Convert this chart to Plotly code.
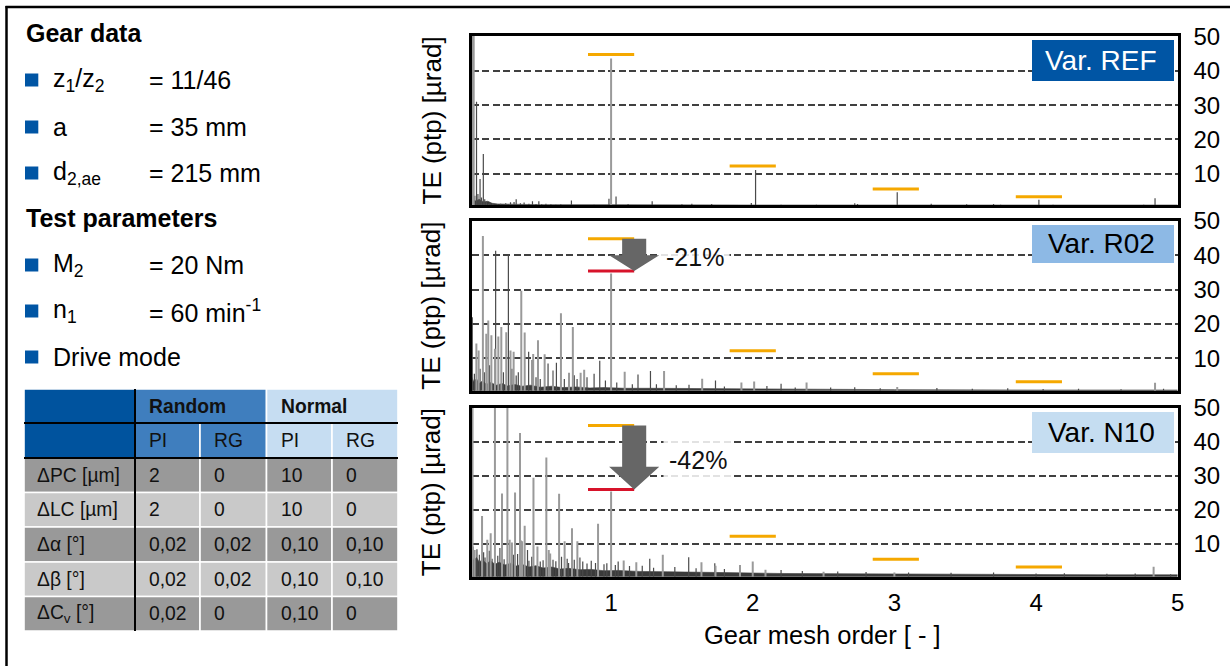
import plotly.graph_objects as go

W, H = 1230, 666
FONT = "Liberation Sans, Arial, sans-serif"

# ---------------- data ----------------
GEAR_LABELS = ["z<sub>1</sub>/z<sub>2</sub>", "a", "d<sub>2,ae</sub>"]
GEAR_VALUES = ["= 11/46", "= 35 mm", "= 215 mm"]
TEST_LABELS = ["M<sub>2</sub>", "n<sub>1</sub>", "Drive mode"]
TEST_VALUES = ["= 20 Nm", "= 60 min<sup>-1</sup>", ""]

TABLE_GROUPS = ["Random", "Normal"]
TABLE_SUBCOLS = ["PI", "RG", "PI", "RG"]
TABLE_ROWS = ["ΔPC [µm]", "ΔLC [µm]", "Δα [°]", "Δβ [°]", "ΔC<sub>v</sub> [°]"]
TABLE_VALUES = [
    ["2", "0", "10", "0"],
    ["2", "0", "10", "0"],
    ["0,02", "0,02", "0,10", "0,10"],
    ["0,02", "0,02", "0,10", "0,10"],
    ["0,02", "0", "0,10", "0"],
]

X_TICKS = [1, 2, 3, 4, 5]
Y_TICKS = [10, 20, 30, 40, 50]
VARIANTS = ["Var. REF", "Var. R02", "Var. N10"]
HARMONIC_ORDERS = [1.0, 2.0, 3.01, 4.02]
REF_LEVELS = [44.8, 12.2, 5.5, 3.2]
REDUCTION_PCT = [None, -21, -42]

# Var. REF spectrum
REF_GREY_X = [0.022, 0.03, 1.0]
REF_GREY_Y = [52, 52, 43.6]
REF_DARK_X = [0.038, 0.05, 0.06, 0.068, 0.075, 0.085, 0.098, 0.108, 0.12, 0.135, 0.145, 0.165, 0.197,
              0.22, 0.24, 0.256, 0.275, 0.29, 0.315, 0.33, 0.36, 0.386, 0.42, 0.445, 0.47, 0.49, 0.51,
              0.54, 0.575, 0.61, 0.645, 0.72, 0.82, 0.88, 0.985, 1.035, 1.12, 1.29, 1.4, 1.5, 1.57,
              1.71, 1.99, 2.02, 2.2, 2.45, 2.72, 2.74, 3.02, 3.26, 3.51, 3.7, 3.75, 4.02, 4.12, 4.76, 4.84]
REF_DARK_Y = [3.5, 31, 4.0, 2.5, 8.4, 3.0, 15.7, 2.5, 1.8, 1.2, 1.4, 1.1, 1.0,
              1.2, 0.9, 1.3, 1.0, 1.6, 1.7, 2.5, 1.3, 1.5, 1.2, 1.9, 1.1, 1.9, 1.0,
              1.2, 1.0, 0.9, 1.0, 2.1, 0.8, 0.9, 2.6, 3.3, 1.1, 1.9, 0.8, 1.0, 1.2,
              1.1, 1.4, 11.0, 0.9, 0.9, 1.3, 1.1, 4.5, 1.2, 1.0, 1.1, 0.9, 2.3, 0.9, 0.9, 2.8]
REF_FLOOR_X = [0.016, 0.04, 0.07, 0.1, 0.13, 0.16, 0.2, 0.3, 0.5, 1.0, 2.0, 5.0]
REF_FLOOR_Y = [2.6, 2.0, 2.4, 1.7, 1.9, 1.3, 1.1, 1.0, 0.9, 0.9, 0.8, 0.8]

# Var. R02 spectrum
R02_GREY_X = [0.049, 0.065, 0.095, 0.119, 0.133, 0.155, 0.18, 0.204, 0.225, 0.26, 0.29, 0.312, 0.366,
              0.39, 0.45, 0.484, 0.531, 0.59, 0.646, 0.703, 0.73, 0.785, 0.81, 1.0, 1.096, 1.374,
              1.643, 1.92, 2.01, 2.38, 3.02, 4.84]
R02_GREY_Y = [14.3, 12.3, 45.6, 17.2, 21.0, 16.7, 12.8, 16.4, 19.1, 17.6, 12.3, 11.9, 29.7,
              17.5, 11.3, 15.3, 11.2, 6.5, 23.1, 5.8, 19.1, 5.8, 6.7, 34.7, 6.1, 6.3,
              4.1, 3.0, 3.3, 3.0, 1.7, 2.9]
R02_DARK_X = [0.02, 0.035, 0.075, 0.105, 0.142, 0.185, 0.24, 0.275, 0.3, 0.33, 0.345, 0.418, 0.442,
              0.47, 0.5, 0.555, 0.614, 0.67, 0.74, 0.76, 0.83, 0.88, 0.92, 0.96, 1.04, 1.15, 1.19,
              1.278, 1.32, 1.46, 1.55, 1.737, 1.8, 2.1, 2.2, 2.3, 2.55, 2.72, 2.9, 3.3, 3.55, 3.8,
              4.05, 4.3, 4.6, 4.9]
R02_DARK_Y = [22, 5.5, 7.0, 6.0, 8.0, 41.3, 6.0, 40.3, 7.0, 5.0, 6.0, 11.9, 9.5,
              4.5, 4.0, 8.5, 8.7, 4.0, 5.1, 4.0, 4.5, 5.5, 9.3, 3.6, 3.0, 2.5, 5.3,
              6.3, 2.5, 2.2, 2.3, 3.6, 1.8, 2.0, 2.6, 1.5, 1.5, 1.6, 1.3, 1.4, 1.2, 1.3,
              1.1, 1.2, 1.0, 1.2]
R02_FLOOR_X = [0.016, 0.03, 0.05, 0.07, 0.09, 0.12, 0.15, 0.19, 0.23, 0.27, 0.32, 0.37, 0.43, 0.5,
               0.58, 0.66, 0.75, 0.85, 0.95, 1.1, 1.3, 1.6, 2.0, 2.5, 3.0, 4.0, 5.0]
R02_FLOOR_Y = [4.6, 3.3, 4.1, 2.7, 3.4, 2.5, 3.0, 2.2, 2.7, 2.0, 2.4, 1.9, 2.2, 1.6,
               1.9, 1.5, 1.7, 1.4, 1.5, 1.3, 1.3, 1.2, 1.1, 1.0, 0.9, 0.8, 0.8]

# Var. N10 spectrum
N10_GREY_X = [0.022, 0.037, 0.089, 0.126, 0.15, 0.18, 0.23, 0.268, 0.284, 0.3, 0.322, 0.357, 0.364,
              0.372, 0.39, 0.452, 0.48, 0.543, 0.56, 0.57, 0.633, 0.672, 0.724, 0.762, 0.908, 1.0,
              1.089, 1.178, 1.365, 1.638, 1.737, 1.91, 2.0, 2.09, 2.5, 3.0, 4.83]
N10_GREY_Y = [52, 8.2, 18.2, 11.2, 13.1, 52, 24.8, 52, 11.2, 10.4, 25.1, 42.6, 11.0,
              10.8, 15.3, 29.4, 9.2, 35.4, 8.2, 7.2, 24.7, 10.8, 14.6, 10.8, 15.9, 25.4,
              5.1, 4.6, 6.8, 4.6, 3.6, 3.8, 4.8, 2.4, 1.8, 1.6, 3.3]
N10_DARK_X = [0.025, 0.053, 0.07, 0.1, 0.11, 0.14, 0.16, 0.2, 0.215, 0.245, 0.31, 0.34, 0.41, 0.42,
              0.44, 0.5, 0.52, 0.59, 0.61, 0.65, 0.69, 0.7, 0.74, 0.78, 0.8, 0.83, 0.86, 0.89, 0.95,
              0.97, 1.03, 1.05, 1.13, 1.22, 1.273, 1.3, 1.45, 1.548, 1.6, 1.732, 1.8, 2.2, 2.35,
              2.6, 2.8, 3.1, 3.4, 3.7, 4.0, 4.2, 4.5, 4.7, 4.95]
N10_DARK_Y = [9.2, 8.4, 6.8, 7.5, 6.0, 8.0, 5.6, 6.5, 8.8, 5.5, 6.8, 7.0, 8.2, 5.0,
              6.2, 4.8, 5.2, 5.3, 4.9, 6.2, 5.6, 4.4, 5.3, 6.0, 4.8, 4.2, 5.0, 4.4, 4.0,
              4.3, 3.8, 4.8, 3.5, 3.6, 5.6, 3.0, 3.2, 6.1, 2.8, 4.3, 2.6, 2.3, 2.0,
              1.9, 1.7, 1.6, 1.5, 1.6, 1.3, 1.4, 1.2, 1.3, 1.1]
N10_FLOOR_X = [0.016, 0.03, 0.05, 0.07, 0.09, 0.12, 0.15, 0.18, 0.21, 0.25, 0.29, 0.33, 0.37, 0.42,
               0.47, 0.52, 0.58, 0.64, 0.7, 0.78, 0.86, 0.95, 1.05, 1.2, 1.4, 1.6, 1.9, 2.2, 2.6,
               3.0, 3.5, 4.0, 4.5, 5.0]
N10_FLOOR_Y = [6.5, 5.2, 6.0, 4.6, 5.4, 4.2, 5.0, 4.0, 4.6, 3.8, 4.3, 3.5, 4.0, 3.2,
               3.6, 2.9, 3.2, 2.6, 2.8, 2.4, 2.5, 2.1, 2.2, 1.9, 1.8, 1.6, 1.5, 1.3, 1.2,
               1.1, 1.0, 1.0, 0.9, 0.9]

SPECTRA = [
    (REF_GREY_X, REF_GREY_Y, REF_DARK_X, REF_DARK_Y, REF_FLOOR_X, REF_FLOOR_Y),
    (R02_GREY_X, R02_GREY_Y, R02_DARK_X, R02_DARK_Y, R02_FLOOR_X, R02_FLOOR_Y),
    (N10_GREY_X, N10_GREY_Y, N10_DARK_X, N10_DARK_Y, N10_FLOOR_X, N10_FLOOR_Y),
]

# ---------------- style / layout (pixels) ----------------
def fx(p):
    return p / W


def fy(p):
    return 1 - p / H


PLOT_X = (471.7, 1177.7)
PLOT_Y = [(36, 205), (220.7, 390.7), (407.7, 576.7)]
Y_RANGES = [(0.8, 50.2), (0.6, 50.05), (0.35, 50.0)]
X_RANGE = (0.016, 5.0)
BOX_STYLE = [("#0055A4", "white", 40, 81), ("#8DB9E5", "black", 225, 263), ("#C5DDF1", "black", 412, 453)]
LINE_HALF = 0.163
YELLOW = "#F5A800"
RED = "#D7132A"
ARROW_COL = "#666666"


def stems(xs, ys):
    sx, sy = [], []
    for a, b in zip(xs, ys):
        sx += [a, a, None]
        sy += [0, b, None]
    return sx, sy


fig = go.Figure()
shapes = []
annotations = []

for i, (gx, gy, dx, dy, flx, fly) in enumerate(SPECTRA):
    xa = "x" if i == 0 else f"x{i + 1}"
    ya = "y" if i == 0 else f"y{i + 1}"
    fig.add_trace(go.Scatter(x=flx, y=fly, mode="lines", fill="tozeroy", fillcolor="#3a3a3a",
                             line=dict(color="#3a3a3a", width=0.6), xaxis=xa, yaxis=ya,
                             showlegend=False, hoverinfo="skip"))
    sx, sy = stems(dx, dy)
    fig.add_trace(go.Scatter(x=sx, y=sy, mode="lines", line=dict(color="#4a4a4a", width=1.2),
                             xaxis=xa, yaxis=ya, showlegend=False, hoverinfo="skip"))
    sx, sy = stems(gx, gy)
    fig.add_trace(go.Scatter(x=sx, y=sy, mode="lines", line=dict(color="#9a9a9a", width=2),
                             xaxis=xa, yaxis=ya, showlegend=False, hoverinfo="skip"))
    # reference level lines
    lx, ly = [], []
    for c, v in zip(HARMONIC_ORDERS, REF_LEVELS):
        lx += [c - LINE_HALF, c + LINE_HALF, None]
        ly += [v, v, None]
    fig.add_trace(go.Scatter(x=lx, y=ly, mode="lines", line=dict(color=YELLOW, width=3),
                             xaxis=xa, yaxis=ya, showlegend=False, hoverinfo="skip"))
    pct = REDUCTION_PCT[i]
    if pct is not None:
        c0 = HARMONIC_ORDERS[0]
        top = REF_LEVELS[0]
        new = top * (1 + pct / 100.0)
        fig.add_trace(go.Scatter(x=[c0 - LINE_HALF, c0 + LINE_HALF], y=[new, new], mode="lines",
                                 line=dict(color=RED, width=3), xaxis=xa, yaxis=ya,
                                 showlegend=False, hoverinfo="skip"))
        xc = c0 + LINE_HALF
        sw, hw = 0.085, 0.177
        head = 4.6 if i == 1 else 6.7
        neck = new + head
        path = (f"M {xc - sw},{top} L {xc + sw},{top} L {xc + sw},{neck} L {xc + hw},{neck} "
                f"L {xc},{new} L {xc - hw},{neck} L {xc - sw},{neck} Z")
        shapes.append(dict(type="path", path=path, xref=xa, yref=ya, fillcolor=ARROW_COL,
                           line=dict(width=0), layer="above"))
        ax_ = 1.59 if i == 1 else 1.61
        ay_ = 39.4 if i == 1 else 34.7
        annotations.append(dict(x=ax_, y=ay_, xref=xa, yref=ya, text=f"{pct}%", showarrow=False,
                                xanchor="center", yanchor="middle",
                                font=dict(family=FONT, size=25, color="#111"),
                                bgcolor="rgba(255,255,255,0.85)", borderpad=5))

    # variant label box
    bg, fg, y0, y1 = BOX_STYLE[i]
    shapes.append(dict(type="rect", xref="paper", yref="paper", x0=fx(1032), x1=fx(1174),
                       y0=fy(y1), y1=fy(y0), fillcolor=bg, line=dict(width=0), layer="above"))
    annotations.append(dict(x=fx(1101), y=fy((y0 + y1) / 2), xref="paper", yref="paper",
                            text=VARIANTS[i], showarrow=False,
                            font=dict(family=FONT, size=28, color=fg), xanchor="center",
                            yanchor="middle"))
    # y title
    annotations.append(dict(x=fx(431), y=fy((PLOT_Y[i][0] + PLOT_Y[i][1]) / 2), xref="paper",
                            yref="paper", text="TE (ptp) [µrad]", textangle=-90, showarrow=False,
                            font=dict(family=FONT, size=26, color="black"), xanchor="center",
                            yanchor="middle"))

axis_common = dict(showline=True, linecolor="black", linewidth=3, mirror=True, zeroline=False,
                   automargin=False)
layout_axes = {}
for i in range(3):
    xk = "xaxis" if i == 0 else f"xaxis{i + 1}"
    yk = "yaxis" if i == 0 else f"yaxis{i + 1}"
    xa = "x" if i == 0 else f"x{i + 1}"
    ya = "y" if i == 0 else f"y{i + 1}"
    layout_axes[xk] = dict(axis_common, domain=[fx(PLOT_X[0]), fx(PLOT_X[1])], range=list(X_RANGE),
                           anchor=ya, showgrid=False, tickvals=X_TICKS, ticks="",
                           showticklabels=(i == 2), ticklabelstandoff=2,
                           tickfont=dict(family=FONT, size=24, color="black"))
    layout_axes[yk] = dict(axis_common, domain=[fy(PLOT_Y[i][1]), fy(PLOT_Y[i][0])],
                           range=list(Y_RANGES[i]), anchor=xa, side="right", tickvals=Y_TICKS,
                           ticks="", showgrid=True, gridcolor="#404040", griddash="7px,3.5px",
                           gridwidth=2, ticklabelstandoff=8,
                           tickfont=dict(family=FONT, size=24, color="black"))

annotations.append(dict(x=fx(822), y=fy(635), xref="paper", yref="paper",
                        text="Gear mesh order [ - ]", showarrow=False, xanchor="center",
                        yanchor="middle", font=dict(family=FONT, size=25.5, color="black")))

# ---------------- left panel ----------------
BLUE = "#0055A4"
TXT = 25
annotations.append(dict(x=fx(23.5), y=fy(33), xref="paper", yref="paper", text="<b>Gear data</b>",
                        showarrow=False, xanchor="left", yanchor="middle",
                        font=dict(family=FONT, size=TXT, color="black")))
annotations.append(dict(x=fx(23.5), y=fy(218), xref="paper", yref="paper",
                        text="<b>Test parameters</b>", showarrow=False, xanchor="left",
                        yanchor="middle", font=dict(family=FONT, size=TXT, color="black")))
rows_y = [80, 127, 173, 265, 311, 357]
labels = GEAR_LABELS + TEST_LABELS
values = GEAR_VALUES + TEST_VALUES
for yc, lab, val in zip(rows_y, labels, values):
    shapes.append(dict(type="rect", xref="paper", yref="paper", x0=fx(25), x1=fx(38.3),
                       y0=fy(yc + 6.5), y1=fy(yc - 6.5), fillcolor=BLUE, line=dict(width=0)))
    annotations.append(dict(x=fx(51), y=fy(yc), xref="paper", yref="paper", text=lab,
                            showarrow=False, xanchor="left", yanchor="middle",
                            font=dict(family=FONT, size=TXT, color="black")))
    if val:
        annotations.append(dict(x=fx(146.5), y=fy(yc), xref="paper", yref="paper", text=val,
                                showarrow=False, xanchor="left", yanchor="middle",
                                font=dict(family=FONT, size=TXT, color="black")))

# ---------------- table ----------------
TX = [24, 135, 200, 266.5, 332, 398]
TY = [389, 423, 458, 492.5, 527, 562, 596.5, 631]
HDR_DARK = "#00539E"
HDR_MID = "#3F7EBE"
HDR_LIGHT = "#C6DDF2"
ROW_DARK = "#999999"
ROW_LIGHT = "#C9C9C9"
TFS = 19.3


def cell(x0, x1, y0, y1, col):
    shapes.append(dict(type="rect", xref="paper", yref="paper", x0=fx(x0), x1=fx(x1), y0=fy(y1),
                       y1=fy(y0), fillcolor=col, line=dict(color="white", width=1.6)))


def ttext(x, y, s, bold=False, anchor="left"):
    annotations.append(dict(x=fx(x), y=fy(y), xref="paper", yref="paper",
                            text=f"<b>{s}</b>" if bold else s, showarrow=False, xanchor=anchor,
                            yanchor="middle", font=dict(family=FONT, size=TFS, color="#111")))


# header rows
cell(TX[0], TX[1], TY[0], TY[2], HDR_DARK)
cell(TX[1], TX[3], TY[0], TY[1], HDR_MID)
cell(TX[3], TX[5], TY[0], TY[1], HDR_LIGHT)
for j in range(4):
    cell(TX[j + 1], TX[j + 2], TY[1], TY[2], HDR_MID if j < 2 else HDR_LIGHT)
ttext(TX[1] + 12, (TY[0] + TY[1]) / 2, TABLE_GROUPS[0], bold=True)
ttext(TX[3] + 12, (TY[0] + TY[1]) / 2, TABLE_GROUPS[1], bold=True)
for j, s in enumerate(TABLE_SUBCOLS):
    ttext(TX[j + 1] + 12, (TY[1] + TY[2]) / 2, s)
for r, (lab, vals) in enumerate(zip(TABLE_ROWS, TABLE_VALUES)):
    col = ROW_DARK if r % 2 == 0 else ROW_LIGHT
    y0, y1 = TY[r + 2], TY[r + 3]
    for j in range(5):
        cell(TX[j], TX[j + 1], y0, y1, col)
    ttext(TX[0] + 11, (y0 + y1) / 2, lab)
    for j, v in enumerate(vals):
        ttext(TX[j + 1] + 12, (y0 + y1) / 2, v)
# black separator lines
shapes.append(dict(type="line", xref="paper", yref="paper", x0=fx(TX[1]), x1=fx(TX[1]),
                   y0=fy(TY[0]), y1=fy(TY[-1]), line=dict(color="black", width=2)))
for yy in (TY[1], TY[2]):
    shapes.append(dict(type="line", xref="paper", yref="paper", x0=fx(TX[0]), x1=fx(TX[-1]),
                       y0=fy(yy), y1=fy(yy), line=dict(color="black", width=2)))

# outer frame (top and left edges)
shapes.append(dict(type="line", xref="paper", yref="paper", x0=fx(5.5), x1=1.0, y0=fy(7), y1=fy(7),
                   line=dict(color="black", width=2.5)))
shapes.append(dict(type="line", xref="paper", yref="paper", x0=fx(6.5), x1=fx(6.5), y0=0, y1=fy(6),
                   line=dict(color="black", width=2.5)))

fig.update_layout(width=W, height=H, autosize=False, margin=dict(l=0, r=0, t=0, b=0, pad=0),
                  paper_bgcolor="white", plot_bgcolor="white", showlegend=False,
                  shapes=shapes, annotations=annotations, font=dict(family=FONT),
                  **layout_axes)

fig.write_html("out.html", config={"displayModeBar": False},
               post_script="document.body.style.margin='0';document.body.style.overflow='hidden';")
